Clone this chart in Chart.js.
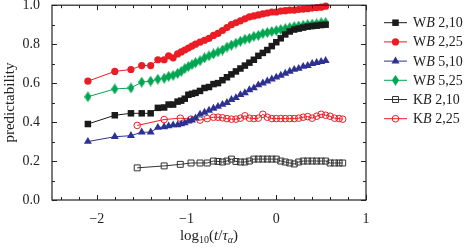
<!DOCTYPE html>
<html>
<head>
<meta charset="utf-8">
<script src="https://cdn.jsdelivr.net/npm/chart.js@4.4.0/dist/chart.umd.min.js"></script>
<style>
html, body { margin: 0; padding: 0; background: #fff; }
#wrap { width: 467px; height: 250px; }
</style>
</head>
<body>
<div id="wrap"><canvas id="grafico" width="467" height="250"></canvas></div>
<script>
// Datos
const xWB = [-2.10, -1.80, -1.62, -1.50, -1.40, -1.32, -1.25, -1.20, -1.15, -1.10,
  -1.06, -1.02, -0.98, -0.94, -0.90, -0.85, -0.80, -0.75, -0.70, -0.65,
  -0.60, -0.55, -0.50, -0.45, -0.40, -0.35, -0.30, -0.25, -0.20, -0.15,
  -0.10, -0.05, 0.00, 0.05, 0.10, 0.15, 0.20, 0.25, 0.30, 0.35,
  0.40, 0.45, 0.50, 0.55];
const yWB210 = [0.39, 0.435, 0.445, 0.445, 0.445, 0.473, 0.475, 0.49, 0.49, 0.505,
  0.51, 0.52, 0.54, 0.545, 0.55, 0.56, 0.575, 0.58, 0.595, 0.60,
  0.615, 0.63, 0.645, 0.66, 0.675, 0.69, 0.705, 0.72, 0.74, 0.755,
  0.77, 0.79, 0.81, 0.83, 0.85, 0.865, 0.875, 0.88, 0.885, 0.89,
  0.893, 0.895, 0.898, 0.90];
const yWB225 = [0.61, 0.66, 0.67, 0.69, 0.69, 0.72, 0.72, 0.74, 0.73, 0.75,
  0.76, 0.77, 0.78, 0.79, 0.80, 0.81, 0.82, 0.83, 0.845, 0.855,
  0.87, 0.885, 0.90, 0.91, 0.92, 0.93, 0.94, 0.945, 0.95, 0.955,
  0.96, 0.965, 0.965, 0.97, 0.972, 0.975, 0.975, 0.978, 0.98, 0.982,
  0.985, 0.988, 0.99, 0.995];
const yWB510 = [0.30, 0.325, 0.33, 0.348, 0.348, 0.372, 0.375, 0.38, 0.385, 0.385,
  0.39, 0.395, 0.405, 0.41, 0.42, 0.44, 0.45, 0.46, 0.47, 0.48,
  0.49, 0.50, 0.515, 0.525, 0.54, 0.55, 0.565, 0.575, 0.59, 0.60,
  0.61, 0.62, 0.63, 0.64, 0.65, 0.66, 0.67, 0.675, 0.685, 0.69,
  0.70, 0.705, 0.71, 0.715];
const yWB525 = [0.53, 0.57, 0.575, 0.605, 0.61, 0.62, 0.625, 0.635, 0.64, 0.65,
  0.66, 0.675, 0.685, 0.695, 0.705, 0.715, 0.73, 0.74, 0.75, 0.76,
  0.77, 0.785, 0.795, 0.805, 0.815, 0.825, 0.83, 0.84, 0.845, 0.855,
  0.86, 0.865, 0.87, 0.875, 0.88, 0.885, 0.89, 0.893, 0.897, 0.90,
  0.903, 0.905, 0.91, 0.91];

const xKB = [-1.55, -1.25, -1.07, -0.95, -0.85, -0.77, -0.70, -0.65, -0.60, -0.55,
  -0.50, -0.45, -0.40, -0.35, -0.30, -0.25, -0.20, -0.15, -0.10, -0.05,
  0.00, 0.05, 0.10, 0.15, 0.20, 0.25, 0.30, 0.35, 0.40, 0.45,
  0.50, 0.55, 0.60, 0.65, 0.70, 0.74];
const yKB210 = [0.165, 0.175, 0.183, 0.19, 0.19, 0.19, 0.20, 0.198, 0.195, 0.20,
  0.21, 0.198, 0.195, 0.195, 0.20, 0.21, 0.21, 0.21, 0.21, 0.21,
  0.21, 0.20, 0.195, 0.19, 0.185, 0.195, 0.20, 0.20, 0.20, 0.20,
  0.20, 0.20, 0.19, 0.19, 0.19, 0.19];
const yKB225 = [0.383, 0.413, 0.42, 0.415, 0.41, 0.418, 0.425, 0.425, 0.422, 0.418,
  0.415, 0.415, 0.42, 0.432, 0.42, 0.418, 0.42, 0.44, 0.425, 0.418,
  0.418, 0.418, 0.418, 0.418, 0.418, 0.42, 0.425, 0.428, 0.42, 0.43,
  0.44, 0.435, 0.43, 0.42, 0.418, 0.415];

const etiquetas = ['WB 2,10', 'WB 2,25', 'WB 5,10', 'WB 5,25', 'KB 2,10', 'KB 2,25'];
const ticksX = [-2, -1, 0, 1];
const ticksMenoresX = [-2.4, -2.2, -1.8, -1.6, -1.4, -1.2, -0.8, -0.6, -0.4, -0.2, 0.2, 0.4, 0.6, 0.8];
const ticksY = [0, 0.2, 0.4, 0.6, 0.8, 1.0];
const ticksMenoresY = [0.1, 0.3, 0.5, 0.7, 0.9];

const FUENTE = "'Liberation Serif', 'DejaVu Serif', serif";

// rombo estrecho para WB 5,25
function crearRombo(color) {
    const c = document.createElement('canvas');
    c.width = 7; c.height = 11;
    const g = c.getContext('2d');
    g.fillStyle = color;
    g.beginPath();
    g.moveTo(3.5, 0); g.lineTo(7, 5.5); g.lineTo(3.5, 11); g.lineTo(0, 5.5);
    g.closePath();
    g.fill();
    return c;
}

const rojo = '#ec1c24', azul = '#2e3192', verde = '#00a651', negro = '#1a1a1a';
const rombo = crearRombo(verde);

function puntos(xs, ys) {
    return xs.map((x, i) => ({ x: x, y: ys[i] }));
}

const series = [
    { label: etiquetas[0], data: puntos(xWB, yWB210), color: negro, estilo: 'rect', radio: 4.6, relleno: true },
    { label: etiquetas[1], data: puntos(xWB, yWB225), color: rojo, estilo: 'circle', radio: 3.6, relleno: true },
    { label: etiquetas[2], data: puntos(xWB, yWB510), color: azul, estilo: 'triangle', radio: 4.6, relleno: true },
    { label: etiquetas[3], data: puntos(xWB, yWB525), color: verde, estilo: rombo, radio: 4, relleno: true },
    { label: etiquetas[4], data: puntos(xKB, yKB210), color: '#333', estilo: 'rect', radio: 4.2, relleno: false },
    { label: etiquetas[5], data: puntos(xKB, yKB225), color: rojo, estilo: 'circle', radio: 3.3, relleno: false }
];

function marcador(ctx, s, x, y) {
    ctx.save();
    if (typeof s.estilo === 'object') {
        ctx.drawImage(s.estilo, x - s.estilo.width / 2, y - s.estilo.height / 2);
        ctx.restore();
        return;
    }
    ctx.beginPath();
    const r = s.radio;
    if (s.estilo === 'rect') {
        const h = r * Math.SQRT1_2;
        ctx.rect(x - h, y - h, 2 * h, 2 * h);
    } else if (s.estilo === 'circle') {
        ctx.arc(x, y, r, 0, Math.PI * 2);
    } else {
        ctx.moveTo(x, y - r);
        ctx.lineTo(x + r * Math.sin(2 * Math.PI / 3), y + r / 2);
        ctx.lineTo(x - r * Math.sin(2 * Math.PI / 3), y + r / 2);
        ctx.closePath();
    }
    if (s.relleno) {
        ctx.fillStyle = s.color;
        ctx.fill();
    } else {
        ctx.strokeStyle = s.color;
        ctx.lineWidth = 1;
        ctx.stroke();
    }
    ctx.restore();
}

// marco, ticks hacia dentro, títulos y leyenda
const decoracion = {
    id: 'decoracion',
    afterDraw(chart) {
        const ctx = chart.ctx, a = chart.chartArea;
        const xs = chart.scales.x, ys = chart.scales.y;
        ctx.save();
        ctx.strokeStyle = '#222';
        ctx.lineWidth = 1.2;
        ctx.strokeRect(a.left, a.top, a.right - a.left, a.bottom - a.top);

        ctx.lineWidth = 1;
        ctx.beginPath();
        const tickX = (v, len) => {
            const px = Math.round(xs.getPixelForValue(v)) + 0.5;
            ctx.moveTo(px, a.bottom); ctx.lineTo(px, a.bottom - len);
            ctx.moveTo(px, a.top); ctx.lineTo(px, a.top + len);
        };
        const tickY = (v, len) => {
            const py = Math.round(ys.getPixelForValue(v)) + 0.5;
            ctx.moveTo(a.left, py); ctx.lineTo(a.left + len, py);
            ctx.moveTo(a.right, py); ctx.lineTo(a.right - len, py);
        };
        ticksX.forEach(v => tickX(v, 5));
        ticksMenoresX.forEach(v => tickX(v, 3));
        ticksY.forEach(v => tickY(v, 5));
        ticksMenoresY.forEach(v => tickY(v, 3));
        ctx.stroke();

        // título eje y
        ctx.fillStyle = '#222';
        ctx.font = '15px ' + FUENTE;
        ctx.save();
        ctx.translate(10, (a.top + a.bottom) / 2);
        ctx.rotate(-Math.PI / 2);
        ctx.textAlign = 'center';
        ctx.textBaseline = 'middle';
        ctx.fillText('predictability', 0, 0);
        ctx.restore();

        // título eje x: log10(t/τα)
        const trozos = [
            { t: 'log', f: '15px ', dy: 0 },
            { t: '10', f: '10px ', dy: 3 },
            { t: '(', f: '15px ', dy: 0 },
            { t: 't', f: 'italic 15px ', dy: 0 },
            { t: '/', f: '15px ', dy: 0 },
            { t: 'τ', f: 'italic 15px ', dy: 0 },
            { t: 'α', f: 'italic 10px ', dy: 3 },
            { t: ')', f: '15px ', dy: 0 }
        ];
        let ancho = 0;
        trozos.forEach(p => { ctx.font = p.f + FUENTE; p.w = ctx.measureText(p.t).width; ancho += p.w; });
        let cx = (a.left + a.right) / 2 - ancho / 2;
        ctx.textAlign = 'left';
        ctx.textBaseline = 'alphabetic';
        trozos.forEach(p => { ctx.font = p.f + FUENTE; ctx.fillText(p.t, cx, 240 + p.dy); cx += p.w; });

        // leyenda
        series.forEach((s, i) => {
            const y = 22.7 + i * 19.2;
            ctx.strokeStyle = s.color;
            ctx.lineWidth = 1;
            ctx.beginPath();
            ctx.moveTo(384, y); ctx.lineTo(407, y);
            ctx.stroke();
            marcador(ctx, s, 395.5, y);
            ctx.fillStyle = '#222';
            let tx = 413;
            const partes = [[s.label[0], ''], [s.label[1], 'italic '], [s.label.slice(2), '']];
            partes.forEach(([t, est]) => {
                ctx.font = est + '14px ' + FUENTE;
                ctx.fillText(t, tx, y + 4.5);
                tx += ctx.measureText(t).width;
            });
        });
        ctx.restore();
    }
};

function sinRelleno(scale) {
    scale.paddingTop = 0; scale.paddingBottom = 0;
    scale.paddingLeft = 0; scale.paddingRight = 0;
}

const ctx = document.getElementById('grafico').getContext('2d');
const grafico = new Chart(ctx, {
    type: 'line',
    data: {
        datasets: series.map(s => ({
            label: s.label,
            data: s.data,
            borderColor: s.color,
            borderWidth: 1,
            pointStyle: s.estilo,
            pointRadius: s.radio,
            pointBackgroundColor: s.relleno ? s.color : 'rgba(255,255,255,0)',
            pointBorderColor: s.color,
            pointBorderWidth: s.relleno ? 0 : 1,
            fill: false,
            tension: 0,
            clip: false
        }))
    },
    plugins: [decoracion],
    options: {
        responsive: false,
        animation: false,
        layout: { padding: { top: 4, right: 101, left: 0, bottom: 0 } },
        plugins: { legend: { display: false }, tooltip: { enabled: false } },
        scales: {
            x: {
                type: 'linear',
                min: -2.5,
                max: 1,
                grid: { display: false, drawTicks: false },
                border: { display: false },
                afterBuildTicks: sc => { sc.ticks = ticksX.map(v => ({ value: v })); },
                afterFit: sc => { sc.height = 50; sinRelleno(sc); },
                ticks: {
                    padding: 11,
                    color: '#222',
                    font: { family: FUENTE, size: 14 },
                    maxRotation: 0,
                    callback: v => v < 0 ? '\u2212' + Math.abs(v) : String(v)
                }
            },
            y: {
                min: 0,
                max: 1,
                grid: { display: false, drawTicks: false },
                border: { display: false },
                afterBuildTicks: sc => { sc.ticks = ticksY.map(v => ({ value: v })); },
                afterFit: sc => { sc.width = 52; sinRelleno(sc); },
                ticks: {
                    padding: 12,
                    color: '#222',
                    font: { family: FUENTE, size: 14 },
                    callback: v => v.toFixed(1)
                }
            }
        }
    }
});
</script>
</body>
</html>
